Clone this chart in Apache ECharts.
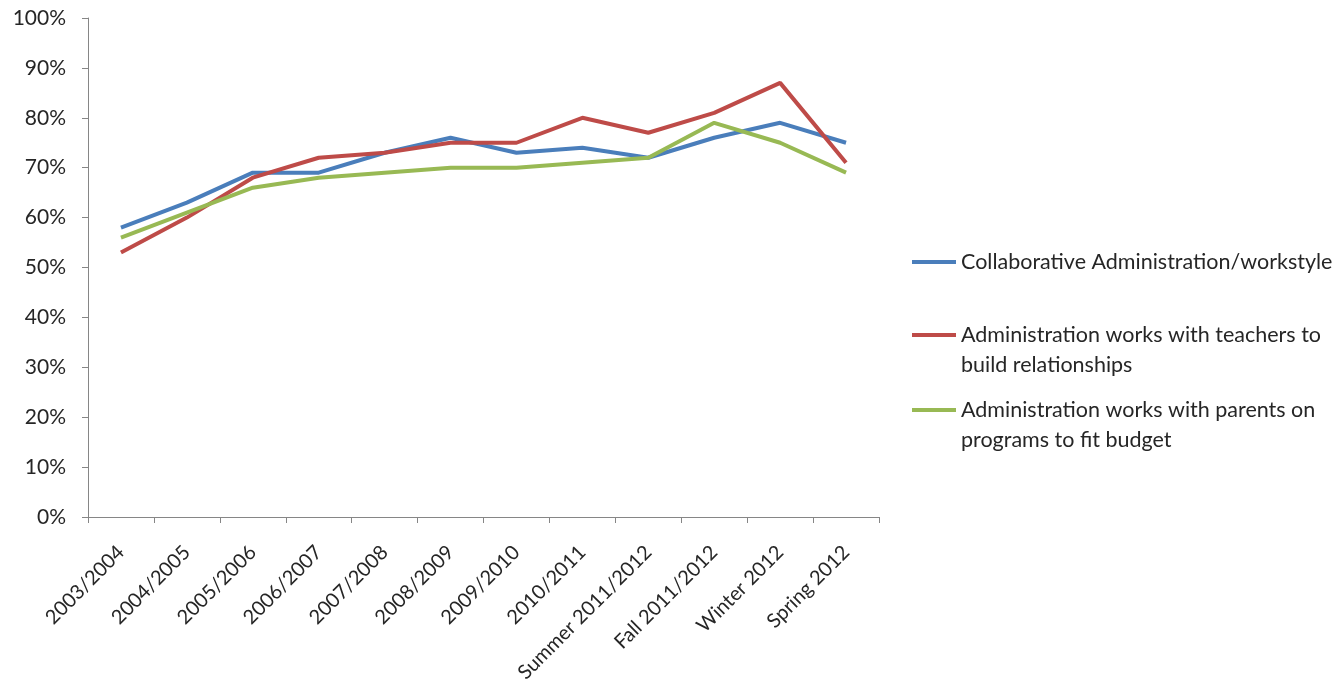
<!DOCTYPE html>
<html lang="en">
	<head>
		<meta charset="UTF-8">
		<title>Administration survey trend</title>
		<style>
			html, body {
				margin: 0;
				padding: 0;
				background: #fff;
			}

			#main {
				width: 1340px;
				height: 691px;
			}
		</style>
		<script src="https://cdn.jsdelivr.net/npm/echarts@6/dist/echarts.min.js"></script>
	</head>

	<body>
		<div id="main"></div>

		<script>
			// categories (survey periods)
			var periods = ['2003/2004', '2004/2005', '2005/2006', '2006/2007', '2007/2008', '2008/2009',
				'2009/2010', '2010/2011', 'Summer 2011/2012', 'Fall 2011/2012', 'Winter 2012', 'Spring 2012'];

			// series names
			var nameCollab = 'Collaborative Administration/workstyle';
			var nameTeachers = 'Administration works with teachers to\nbuild relationships';
			var nameParents = 'Administration works with parents on\nprograms to fit budget';

			// values in percent
			var collabValues = [58, 63, 69, 69, 73, 76, 73, 74, 72, 76, 79, 75];
			var teacherValues = [53, 60, 68, 72, 73, 75, 75, 80, 77, 81, 87, 71];
			var parentValues = [56, 61, 66, 68, 69, 70, 70, 71, 72, 79, 75, 69];

			var textColor = '#262626';
			var axisColor = '#868686';
			var font = 'Lato';

			var myChart = echarts.init(document.getElementById('main'));

			// one legend per item; a leading blank line puts the icon on the first text line
			function legendFor(name, top, multi) {
				return {
					data: [name],
					left: 912,
					top: top,
					padding: 0,
					icon: 'rect',
					itemWidth: 44,
					itemHeight: 4,
					itemGap: 0,
					selectedMode: false,
					formatter: function (n) {
						return multi ? '\n' + n : n;
					},
					textStyle: {
						color: textColor,
						fontFamily: font,
						fontSize: 21.5,
						lineHeight: 30
					}
				};
			}

			function lineSeries(name, values, color) {
				return {
					name: name,
					type: 'line',
					data: values,
					symbol: 'none',
					lineStyle: {
						color: color,
						width: 4
					},
					itemStyle: {
						color: color
					}
				};
			}

			var option = {
				animation: false,
				grid: {
					left: 88,
					right: 461,
					top: 18,
					bottom: 174,
					outerBoundsMode: 'none'
				},
				legend: [
					legendFor(nameCollab, 247, false),
					legendFor(nameTeachers, 290, true),
					legendFor(nameParents, 365, true)
				],
				xAxis: {
					type: 'category',
					data: periods,
					boundaryGap: true,
					axisLine: {
						lineStyle: { color: axisColor, width: 1 }
					},
					axisTick: {
						show: true,
						length: 6,
						lineStyle: { color: axisColor }
					},
					axisLabel: {
						interval: 0,
						rotate: 45,
						margin: 32,
						color: textColor,
						fontFamily: font,
						fontSize: 20
					},
					splitLine: { show: false }
				},
				yAxis: {
					type: 'value',
					min: 0,
					max: 100,
					interval: 10,
					axisLine: {
						show: true,
						lineStyle: { color: axisColor, width: 1 }
					},
					axisTick: {
						show: true,
						length: 6,
						lineStyle: { color: axisColor }
					},
					axisLabel: {
						formatter: '{value}%',
						margin: 22,
						color: textColor,
						fontFamily: font,
						fontSize: 21
					},
					splitLine: { show: false }
				},
				series: [
					lineSeries(nameCollab, collabValues, '#4a7ebb'),
					lineSeries(nameTeachers, teacherValues, '#be4b48'),
					lineSeries(nameParents, parentValues, '#98b954')
				]
			};

			myChart.setOption(option);
		</script>
	</body>
</html>
